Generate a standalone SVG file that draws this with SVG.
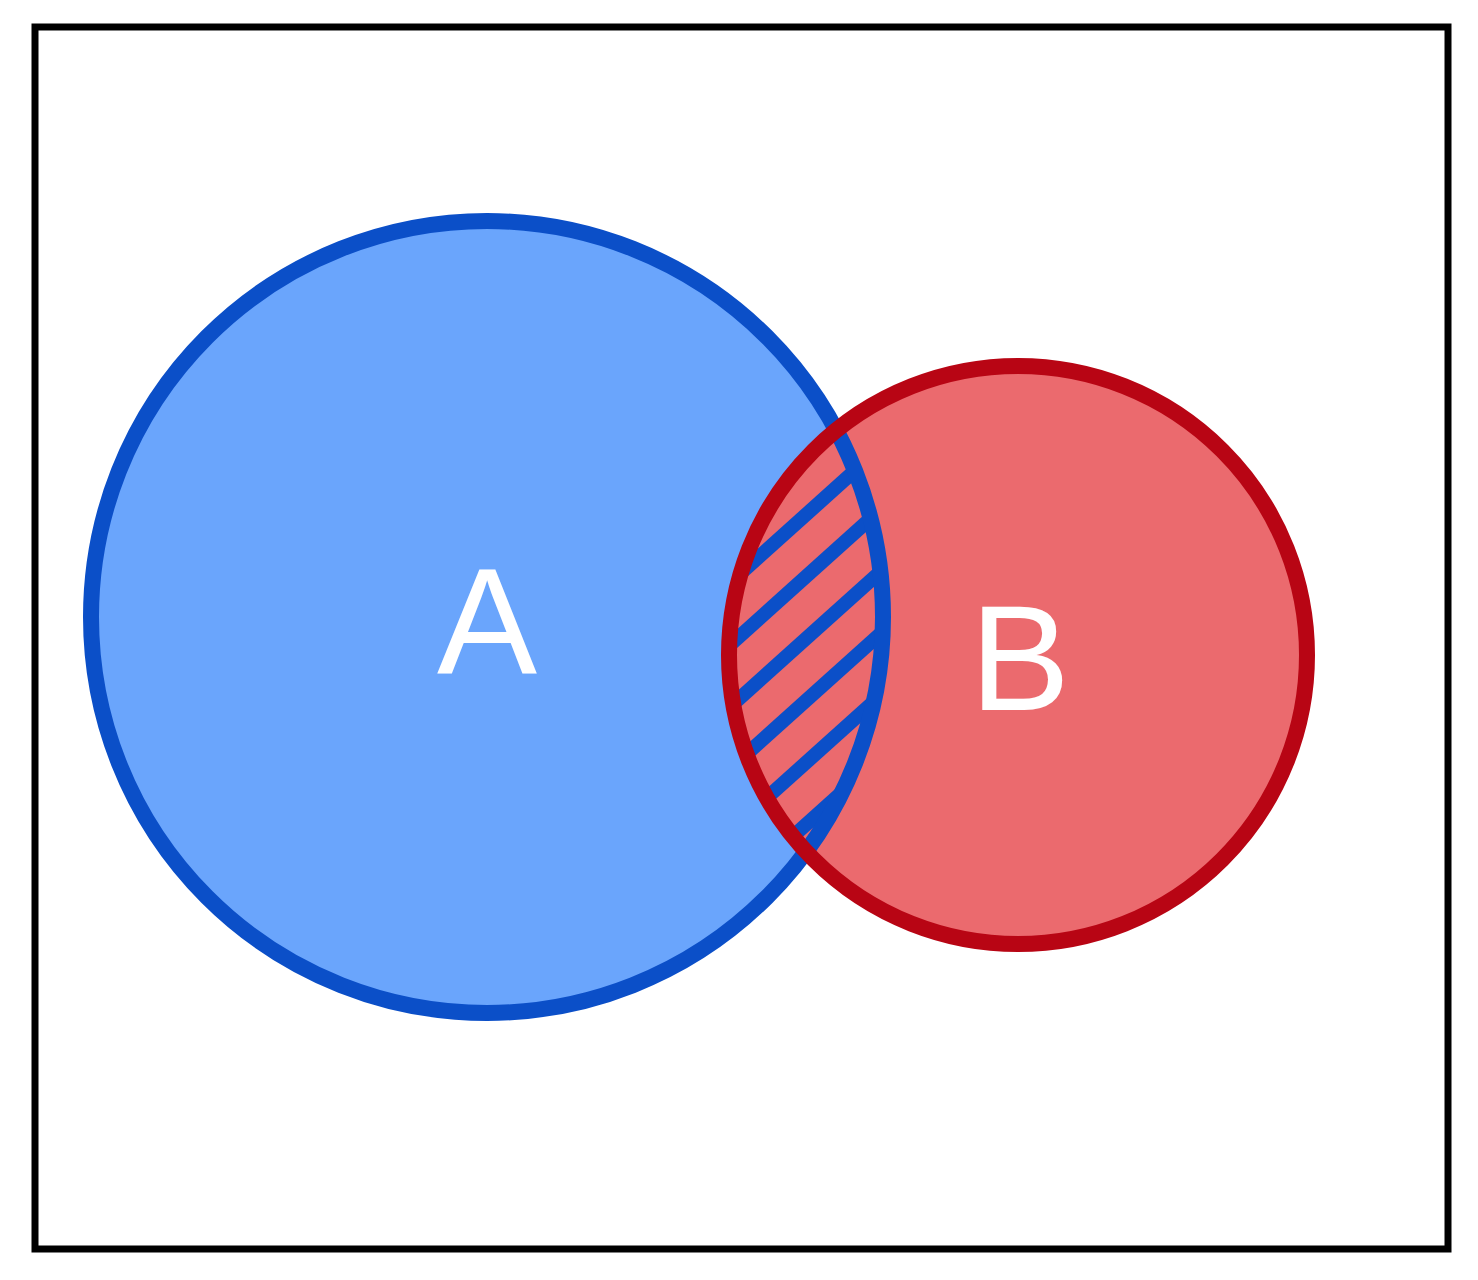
<svg xmlns="http://www.w3.org/2000/svg" width="1478" height="1280" viewBox="0 0 1478 1280">
<style>
.lbl{font-family:"Liberation Sans",Arial,sans-serif;font-size:150px;fill:#fff;text-anchor:middle}
.h{stroke:#0b4fc8;stroke-width:14}
</style>
<defs>
<clipPath id="cb"><circle cx="1018" cy="655" r="289"/></clipPath>
<clipPath id="ca"><circle cx="487" cy="617" r="396"/></clipPath>
</defs>
<rect x="35" y="27" width="1413" height="1222" fill="#fff" stroke="#000" stroke-width="7"/>
<g id="A">
<circle cx="487" cy="617" r="396" fill="#6aa5fc" stroke="#0b4fc8" stroke-width="16"/>
<text class="lbl" x="487" y="673">A</text>
</g>
<g id="B">
<circle cx="1018" cy="655" r="289" fill="#eb6a6e"/>
<g clip-path="url(#cb)"><g clip-path="url(#ca)">
<line class="h" x1="650" y1="655" x2="950" y2="385"/>
<line class="h" x1="650" y1="717" x2="950" y2="447"/>
<line class="h" x1="650" y1="779" x2="950" y2="509"/>
<line class="h" x1="650" y1="841" x2="950" y2="571"/>
<line class="h" x1="650" y1="903" x2="950" y2="633"/>
<line class="h" x1="650" y1="965" x2="950" y2="695"/>
</g>
<circle cx="487" cy="617" r="396" fill="none" stroke="#0b4fc8" stroke-width="16"/>
</g>
<circle cx="1018" cy="655" r="289" fill="none" stroke="#b80514" stroke-width="16"/>
<text class="lbl" x="1020" y="710">B</text>
</g>
<g id="connectors"/>
</svg>
